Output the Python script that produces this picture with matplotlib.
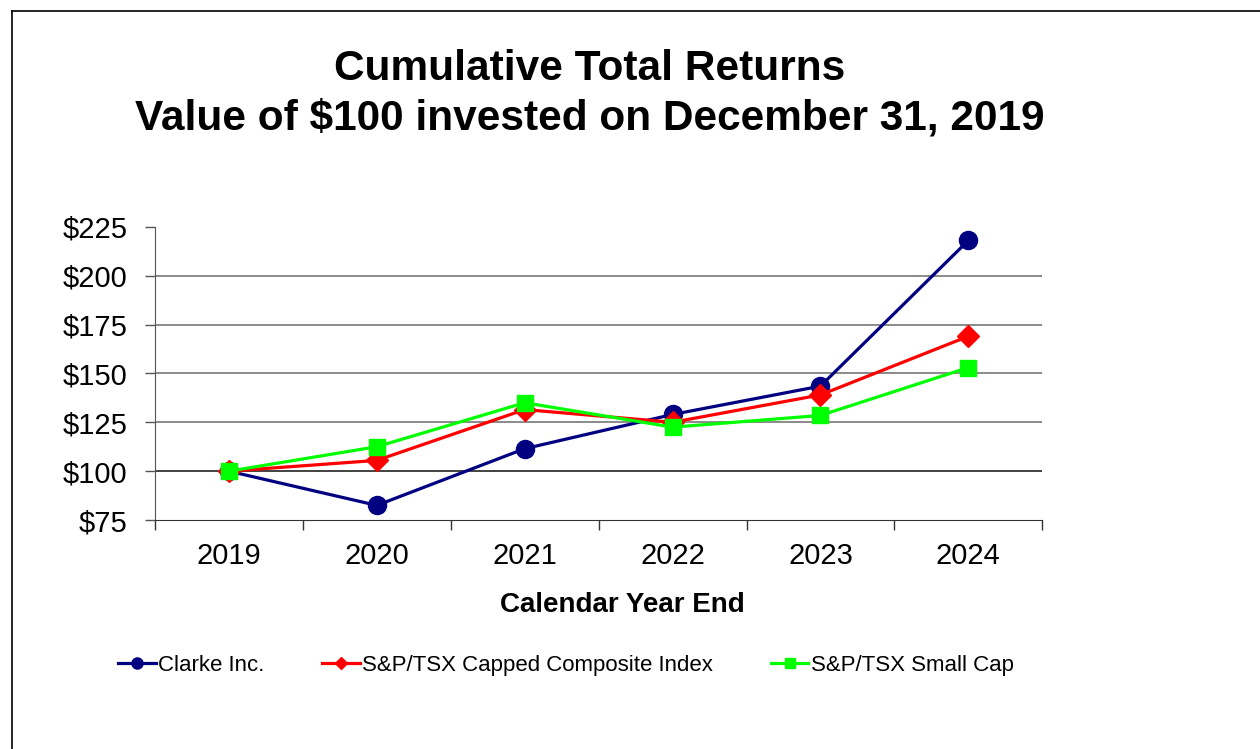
import matplotlib
matplotlib.use("Agg")
import matplotlib.pyplot as plt
from matplotlib.lines import Line2D
import numpy as np

plt.rcParams["font.family"] = ["Liberation Sans", "DejaVu Sans"]

years = ["2019", "2020", "2021", "2022", "2023", "2024"]
clarke = [100, 82.5, 111.5, 129, 143.5, 218]
tsx_composite = [100, 105.5, 131.5, 125, 139, 169]
tsx_small_cap = [100, 112.5, 135, 122.5, 128.5, 153]
y_ticks = [75, 100, 125, 150, 175, 200, 225]

fig = plt.figure(figsize=(12.6, 7.49), dpi=100)
ax = fig.add_axes([0.123, 0.3057, 0.7042, 0.3915])

x = np.arange(len(years))
ax.plot(x, clarke, color="#000080", lw=2.3, marker="o", ms=13, label="Clarke Inc.", zorder=3)
ax.plot(x, tsx_composite, color="#ff0000", lw=2.3, marker="D", ms=11, label="S&P/TSX Capped Composite Index", zorder=4)
ax.plot(x, tsx_small_cap, color="#00ff00", lw=2.3, marker="s", ms=11, label="S&P/TSX Small Cap", zorder=5)

ax.set_xlim(-0.5, len(years) - 0.5)
ax.set_ylim(75, 225)
ax.set_yticks(y_ticks)
ax.set_yticklabels([f"${v}" for v in y_ticks], fontsize=21)
ax.set_xticks(x)
ax.set_xticklabels(years, fontsize=21)
ax.tick_params(axis="x", length=0, pad=16)
ax.tick_params(axis="y", length=7, width=1, color="#555555", pad=13)
# category boundary ticks
ax.set_xticks(np.arange(-0.5, len(years)), minor=True)
ax.tick_params(axis="x", which="minor", length=7, width=1, color="#333333")

for v in y_ticks[1:-1]:
    ax.axhline(v, color="#222222" if v == 100 else "#777777", lw=1.2, zorder=1)

for s in ["top", "right"]:
    ax.spines[s].set_visible(False)
ax.spines["left"].set_color("#555555")
ax.spines["bottom"].set_color("#333333")

ax.set_xlabel("Calendar Year End", fontsize=20, fontweight="bold")
ax.xaxis.set_label_coords(0.527, -0.291)
ax.xaxis.label.set_va("center")

fig.text(0.468, 0.908, "Cumulative Total Returns", ha="center", va="center",
         fontsize=30.5, fontweight="bold")
fig.text(0.468, 0.842, "Value of $100 invested on December 31, 2019", ha="center", va="center",
         fontsize=30.5, fontweight="bold")

handles = [Line2D([], [], color="#000080", lw=2.3, marker="o", ms=8),
           Line2D([], [], color="#ff0000", lw=2.3, marker="D", ms=6),
           Line2D([], [], color="#00ff00", lw=2.3, marker="s", ms=7)]
labels = ["Clarke Inc.", "S&P/TSX Capped Composite Index", "S&P/TSX Small Cap"]
fig.legend(handles, labels, loc="center", bbox_to_anchor=(0.449, 0.112), ncol=3,
           frameon=False, fontsize=16, handlelength=1.7, handletextpad=0.1,
           columnspacing=2.6)

# outer frame (top and left edges visible)
fig.add_artist(Line2D([0.0095, 1.0], [0.985, 0.985], transform=fig.transFigure, color="black", lw=1.2))
fig.add_artist(Line2D([0.0095, 0.0095], [0.0, 0.985], transform=fig.transFigure, color="black", lw=1.2))

fig.savefig("out.png", dpi=100)
